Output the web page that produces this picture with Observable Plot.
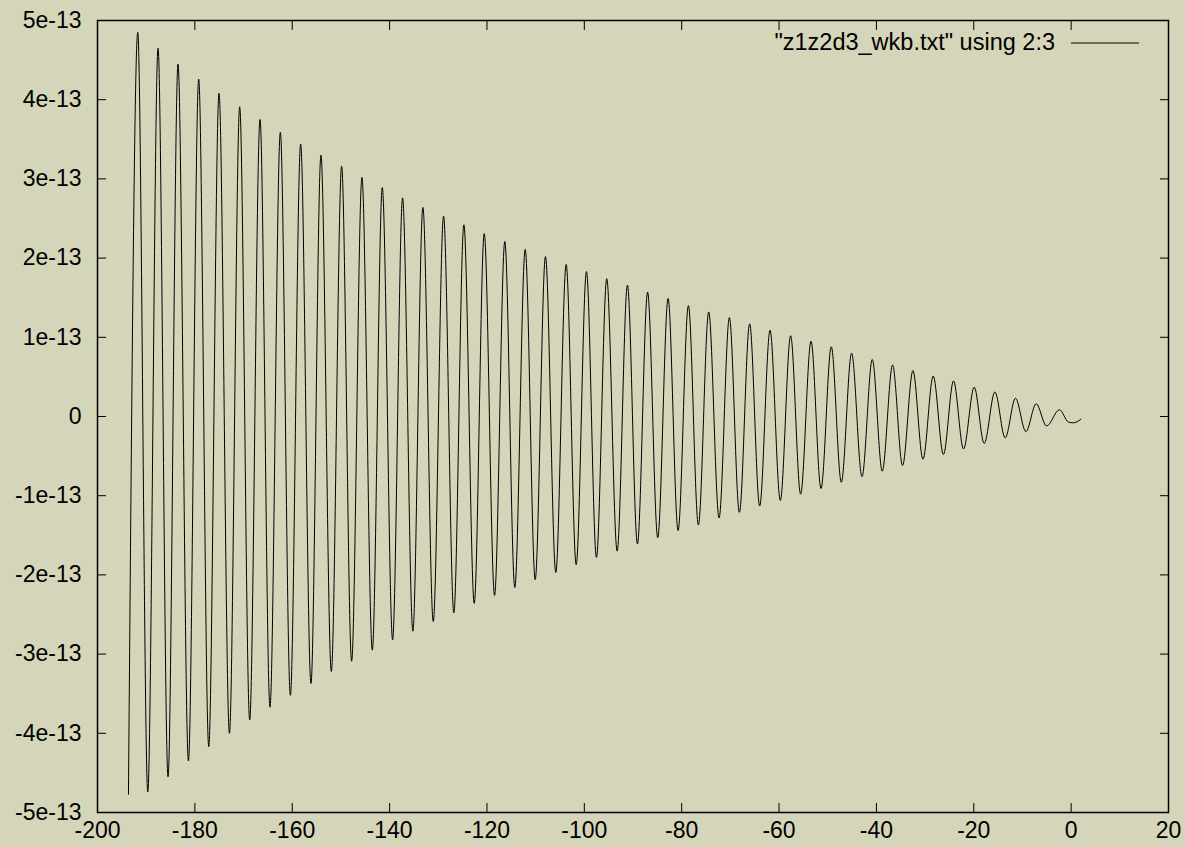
<!DOCTYPE html>
<html>
<head>
<meta charset="utf-8">
<script src="https://cdn.jsdelivr.net/npm/d3@7"></script>
<script src="https://cdn.jsdelivr.net/npm/@observablehq/plot@0.6"></script>
<style>
  html, body { margin: 0; padding: 0; background: #d5d5b9; }
  #chart svg { display: block; }
</style>
</head>
<body>
<div id="chart"></div>
<script>
// ---- data (y values in units of 1e-13) ----
const unit = 1e-13;
const peakX = [-191.73, -187.56, -183.46, -179.21, -175.04, -170.79, -166.62, -162.44, -158.27, -154.10,
  -149.85, -145.68, -141.50, -137.33, -133.16, -128.91, -124.74, -120.56, -116.33, -112.14,
  -107.98, -103.73, -99.56, -95.39, -91.14, -87.00, -82.79, -78.62, -74.45, -70.20,
  -66.04, -61.85, -57.62, -53.43, -49.27, -45.10, -40.85, -36.68, -32.50, -28.33,
  -24.16, -19.91, -15.66, -11.43, -7.18, -2.4];
const peakY = [4.85, 4.65, 4.45, 4.26, 4.08, 3.91, 3.75, 3.59, 3.44, 3.30,
  3.16, 3.02, 2.89, 2.76, 2.64, 2.53, 2.42, 2.31, 2.21, 2.11,
  2.02, 1.92, 1.83, 1.74, 1.66, 1.57, 1.49, 1.40, 1.32, 1.25,
  1.17, 1.09, 1.02, 0.95, 0.88, 0.80, 0.72, 0.65, 0.58, 0.51,
  0.45, 0.37, 0.31, 0.23, 0.16, 0.085];
const troughX = [-193.64, -189.67, -185.51, -181.32, -177.15, -172.90, -168.74, -164.57, -160.38, -156.15,
  -151.97, -147.80, -143.55, -139.38, -135.22, -131.03, -126.80, -122.61, -118.44, -114.28,
  -110.09, -105.86, -101.67, -97.51, -93.26, -89.09, -84.92, -80.74, -76.57, -72.32,
  -68.15, -63.98, -59.74, -55.57, -51.38, -47.21, -42.96, -38.80, -34.63, -30.44,
  -26.23, -22.11, -17.86, -13.55, -9.30, -5.05];
const troughY = [-4.77, -4.74, -4.55, -4.35, -4.17, -4.00, -3.83, -3.67, -3.52, -3.37,
  -3.22, -3.09, -2.95, -2.82, -2.71, -2.59, -2.48, -2.36, -2.26, -2.16,
  -2.06, -1.97, -1.87, -1.78, -1.70, -1.61, -1.53, -1.44, -1.37, -1.28,
  -1.21, -1.13, -1.06, -0.98, -0.91, -0.83, -0.76, -0.69, -0.62, -0.54,
  -0.48, -0.41, -0.34, -0.27, -0.19, -0.12];
const tailX = [-0.55, 0.45, 2.0];
const tailY = [-0.07, -0.08, -0.035];

const xTicks = [-200, -180, -160, -140, -120, -100, -80, -60, -40, -20, 0, 20];
const yTicks = [-5e-13, -4e-13, -3e-13, -2e-13, -1e-13, 0, 1e-13, 2e-13, 3e-13, 4e-13, 5e-13];
const legendLabel = '"z1z2d3_wkb.txt" using 2:3';

// ---- build table ----
const data = [
  ...peakX.map((x, i) => ({x, y: peakY[i] * unit})),
  ...troughX.map((x, i) => ({x, y: troughY[i] * unit})),
  ...tailX.map((x, i) => ({x, y: tailY[i] * unit}))
].sort((a, b) => a.x - b.x);

const fmtY = d => d === 0 ? "0" : d3.format(".0e")(d).replace("\u2212", "-");
const fmtX = d => String(d);

const FONT = "'Liberation Sans', Arial, Helvetica, sans-serif";
const FS = 23;

const legend = (index, scales, values, dims) => {
  const g = d3.create("svg:g").attr("font-family", FONT).attr("font-size", 23.5);
  const xr = dims.width - dims.marginRight;
  const yl = dims.marginTop + 23;
  g.append("text")
    .attr("x", xr - 113).attr("y", yl + 7)
    .attr("text-anchor", "end").attr("fill", "#000")
    .text(legendLabel);
  g.append("line")
    .attr("x1", xr - 97).attr("x2", xr - 29)
    .attr("y1", yl).attr("y2", yl)
    .attr("stroke", "#000").attr("stroke-width", 1);
  return g.node();
};

const chart = Plot.plot({
  width: 1185,
  height: 847,
  marginLeft: 97,
  marginRight: 17,
  marginTop: 20,
  marginBottom: 35,
  style: {background: "#d5d5b9", fontFamily: FONT, fontSize: FS + "px", color: "#000"},
  x: {domain: [-200, 20]},
  y: {domain: [-5e-13, 5e-13]},
  marks: [
    Plot.axisX(xTicks, {anchor: "bottom", tickSize: 9, dy: -9, fill: "none", label: null}),
    Plot.axisX(xTicks, {anchor: "top", tickSize: 9, dy: 9, fill: "none", label: null}),
    Plot.axisY(yTicks, {anchor: "left", tickSize: 9, dx: 9, fill: "none", label: null}),
    Plot.axisY(yTicks, {anchor: "right", tickSize: 9, dx: -9, fill: "none", label: null}),
    Plot.axisX(xTicks, {anchor: "bottom", tickSize: 0, tickPadding: 9, tickFormat: fmtX, label: null}),
    Plot.axisY(yTicks, {anchor: "left", tickSize: 0, tickPadding: 16, tickFormat: fmtY, label: null}),
    Plot.line(data, {x: "x", y: "y", curve: "monotone-x", stroke: "#000", strokeWidth: 1}),
    Plot.frame({stroke: "#000", strokeWidth: 1.5}),
    legend
  ]
});
document.getElementById("chart").appendChild(chart);
</script>
</body>
</html>
